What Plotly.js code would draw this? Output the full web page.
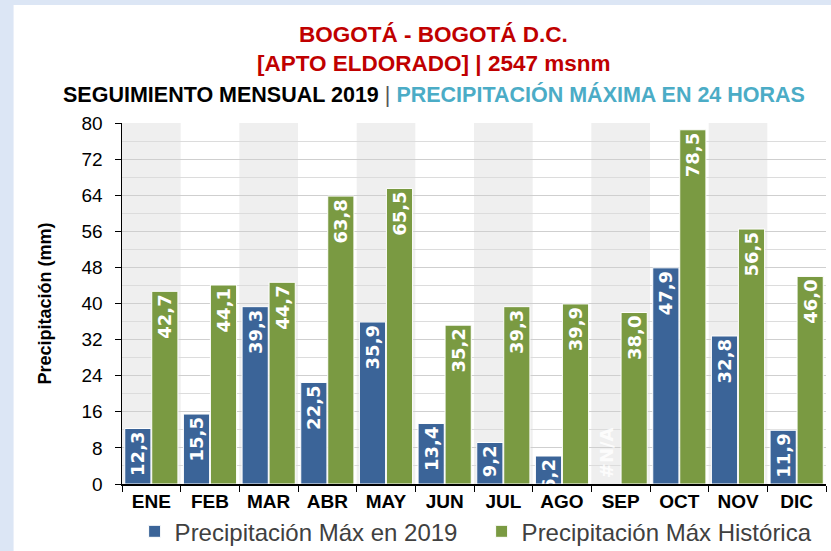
<!DOCTYPE html>
<html><head><meta charset="utf-8">
<script src="https://cdn.plot.ly/plotly-3.0.1.min.js"></script>
<style>html,body{margin:0;padding:0;}#chart{width:831px;height:551px;}</style>
</head><body><div id="chart"></div>
<script>
const months = ['ENE','FEB','MAR','ABR','MAY','JUN','JUL','AGO','SEP','OCT','NOV','DIC'];
const max2019 = [12.3, 15.5, 39.3, 22.5, 35.9, 13.4, 9.2, 6.2, null, 47.9, 32.8, 11.9];
const maxHist = [42.7, 44.1, 44.7, 63.8, 65.5, 35.2, 39.3, 39.9, 38.0, 78.5, 56.5, 46.0];
const seriesNames = ['Precipitación Máx en 2019', 'Precipitación Máx Histórica'];
const yTicks = [0, 8, 16, 24, 32, 40, 48, 56, 64, 72, 80];

const fmt = v => v == null ? '' : v.toFixed(1).replace('.', ',');
const labelFont = {family: 'DejaVu Sans', size: 18, color: 'white', weight: 'bold'};

const traces = [
  {type: 'bar', name: seriesNames[0], x: months, y: max2019,
   text: max2019.map(fmt), textposition: 'inside', insidetextanchor: 'end', textangle: -90,
   constraintext: 'none', textfont: labelFont, hoverinfo: 'skip',
   marker: {color: '#3b6498', line: {color: 'white', width: 1}}},
  {type: 'bar', name: seriesNames[1], x: months, y: maxHist,
   text: maxHist.map(fmt), textposition: 'inside', insidetextanchor: 'end', textangle: -90,
   constraintext: 'none', textfont: labelFont, hoverinfo: 'skip',
   marker: {color: '#7a9a42', line: {color: 'white', width: 1}}}
];

const shapes = [
  {type: 'rect', xref: 'paper', yref: 'paper', x0: -0.154, x1: 1.02, y0: -0.25, y1: 1.327,
   fillcolor: 'white', line: {width: 0}, layer: 'below'}
];
months.forEach((m, i) => {
  if (i % 2 === 0) {
    shapes.push({type: 'rect', xref: 'x', yref: 'paper', x0: i - 0.5, x1: i + 0.5, y0: 0, y1: 1,
      fillcolor: '#efefef', line: {width: 0}, layer: 'below'});
  }
});

const titleFont = {family: 'Liberation Sans, Arial, sans-serif', size: 22.5, weight: 'bold'};
const annotations = [
  {text: 'BOGOTÁ - BOGOTÁ D.C.', xref: 'paper', yref: 'paper', x: 0.443, y: 1.244, showarrow: false,
   xanchor: 'center', yanchor: 'middle', font: Object.assign({}, titleFont, {color: '#c00000'})},
  {text: '[APTO ELDORADO] | 2547 msnm', xref: 'paper', yref: 'paper', x: 0.443, y: 1.166, showarrow: false,
   xanchor: 'center', yanchor: 'middle', font: Object.assign({}, titleFont, {color: '#c00000'})},
  {text: "<span style='color:#000000'>SEGUIMIENTO MENSUAL 2019</span> <span style='color:#555555;font-weight:normal'>|</span> <span style='color:#4bacc6'>PRECIPITACIÓN MÁXIMA EN 24 HORAS</span>",
   xref: 'paper', yref: 'paper', x: 0.443, y: 1.080, showarrow: false,
   xanchor: 'center', yanchor: 'middle', font: Object.assign({}, titleFont, {size: 21.5, color: '#000000'})},
  {text: '#N/A', x: 'SEP', y: 0, xref: 'x', yref: 'y', xshift: -14, yanchor: 'bottom', yshift: 4,
   textangle: -90, showarrow: false, font: {family: 'DejaVu Sans', size: 18, color: 'rgba(255,255,255,0.85)', weight: 'bold'}}
];

const layout = {
  width: 831, height: 551,
  margin: {l: 122, r: 5, t: 123, b: 67},
  paper_bgcolor: '#dce6f5', plot_bgcolor: 'rgba(0,0,0,0)',
  barmode: 'group', bargap: 0.08, bargroupgap: 0.03,
  showlegend: true,
  legend: {orientation: 'h', xref: 'container', yref: 'container', x: 0.162, y: 0.035,
    xanchor: 'left', yanchor: 'middle',
    font: {family: 'Liberation Sans, Arial, sans-serif', size: 24, color: '#404040'},
    bgcolor: 'rgba(0,0,0,0)', itemwidth: 30, entrywidth: 302, entrywidthmode: 'pixels'},
  xaxis: {type: 'category', showline: true, linecolor: '#000', linewidth: 1.5,
    ticks: 'outside', tickson: 'boundaries', ticklen: 6, tickcolor: '#000',
    tickfont: {family: 'Liberation Sans, Arial, sans-serif', size: 19, color: '#000', weight: 'bold'},
    showgrid: false, fixedrange: true, automargin: false},
  yaxis: {range: [0, 80], tickvals: yTicks, showline: true, linecolor: '#000', linewidth: 1.5,
    ticks: 'outside', ticklen: 6, tickcolor: '#000', ticklabelstandoff: 8,
    tickfont: {family: 'Liberation Sans, Arial, sans-serif', size: 19, color: '#000'},
    showgrid: true, gridcolor: '#cfcfcf', gridwidth: 1,
    minor: {dtick: 4, tick0: 0, showgrid: true, gridcolor: '#dcdcdc', gridwidth: 1, ticks: ''},
    zeroline: false, automargin: false,
    title: {text: 'Precipitación (mm)', standoff: 25,
      font: {family: 'Liberation Sans, Arial, sans-serif', size: 18, color: '#000', weight: 'bold'}},
    fixedrange: true},
  shapes: shapes,
  annotations: annotations
};

Plotly.newPlot('chart', traces, layout, {displayModeBar: false, staticPlot: true});
</script></body></html>
